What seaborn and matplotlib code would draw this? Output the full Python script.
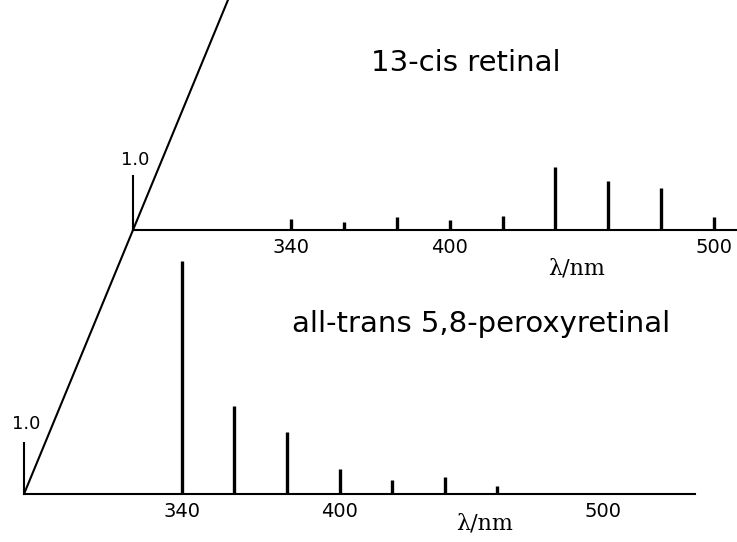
import numpy as np
import pandas as pd
import seaborn as sns
import matplotlib
matplotlib.use("Agg")
import matplotlib.pyplot as plt
from matplotlib.lines import Line2D

# stick spectra (relative intensity, 1.0 = scale bar)
cis_nm = [340, 360, 380, 400, 420, 440, 460, 480, 500]
cis_int = [0.21, 0.15, 0.25, 0.19, 0.26, 1.16, 0.91, 0.78, 0.25]
perox_nm = [340, 360, 380, 400, 420, 440, 460]
perox_int = [4.57, 1.73, 1.22, 0.49, 0.27, 0.33, 0.16]
tick_nm = [340, 400, 500]
origin_nm = 280

title_cis = "13-cis retinal"
title_perox = "all-trans 5,8-peroxyretinal"
xlab = "\u03bb/nm"

sns.set_theme(style="white")
plt.rcParams["font.family"] = ["DejaVu Sans"]

W, H = 737, 542
fig = plt.figure(figsize=(W / 100, H / 100), dpi=100)

# axes placed in pixels: left, right, baseline y (from top), px per unit, ymax
def make_ax(left, right, base, ppu, ymax, xmax):
    ax = fig.add_axes([left / W, (H - base) / H, (right - left) / W, ymax * ppu / H])
    ax.set_xlim(origin_nm, xmax)
    ax.set_ylim(0, ymax)
    ax.patch.set_alpha(0)
    return ax

ax_top = make_ax(133, 736, 230, 54, 1.3, origin_nm + 603 / 2.64)
ax_bot = make_ax(24, 695, 494, 51, 4.7, origin_nm + 671 / 2.63)

panels = [
    (ax_top, cis_nm, cis_int, title_cis, (406, 3.1), (448, -0.72), 7),
    (ax_bot, perox_nm, perox_int, title_perox, (454, 3.33), (455, -0.57), 10),
]

for ax, nm, val, title, tpos, lpos, lab_off in panels:
    df = pd.DataFrame({"nm": nm, "I": val})
    ax.vlines(df["nm"], 0, df["I"], color="black", lw=2.4, clip_on=False)
    sns.despine(ax=ax, top=True, right=True)
    ax.spines["bottom"].set_linewidth(1.5)
    ax.spines["bottom"].set_color("black")
    ax.spines["left"].set_linewidth(1.5)
    ax.spines["left"].set_color("black")
    ax.spines["left"].set_bounds(0, 1)
    ax.set_yticks([])
    ax.set_xticks(tick_nm)
    ax.set_xticklabels([str(t) for t in tick_nm])
    ax.tick_params(axis="x", length=0, pad=6, labelsize=14, labelcolor="black")
    ax.annotate("1.0", xy=(origin_nm, 1.0), xytext=(2, lab_off), textcoords="offset pixels",
                ha="center", va="bottom", fontsize=13, color="black")
    ax.text(tpos[0], tpos[1], title, ha="center", va="center", fontsize=21, color="black")
    ax.text(lpos[0], lpos[1], xlab, ha="center", va="center", fontsize=16,
            family="DejaVu Serif", color="black")

# oblique depth axis through both origins
p0 = ax_bot.transData.transform((origin_nm, 0))
p1 = ax_top.transData.transform((origin_nm, 0))
t = (H - p0[1]) / (p1[1] - p0[1])
p2 = (p0[0] + t * (p1[0] - p0[0]), H)
fig.add_artist(Line2D([p0[0] / W, p2[0] / W], [p0[1] / H, p2[1] / H],
                      transform=fig.transFigure, color="black", lw=1.5))

fig.savefig("out.png", dpi=100)
